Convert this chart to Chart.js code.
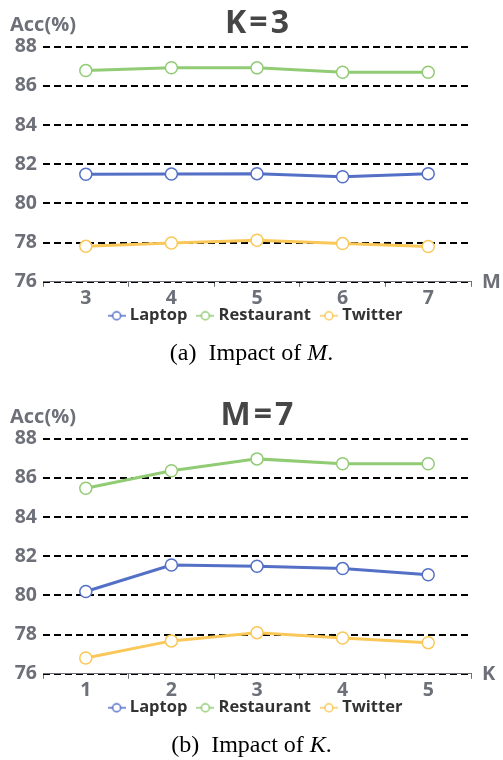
<!DOCTYPE html>
<html lang="en">
<head>
<meta charset="UTF-8">
<title>Impact of M and K</title>
<style>
  html, body { margin: 0; padding: 0; background: #fff; }
  #page { position: relative; width: 503px; height: 760px; overflow: hidden; }
  .box { position: absolute; left: 0; width: 503px; height: 350px; }
  .caption {
    position: absolute; left: 0; width: 503px; text-align: center;
    font-family: "Liberation Serif", "Times New Roman", serif; font-size: 24px; line-height: 26px; color: #000;
  }
</style>
</head>
<body>
<div id="page">
  <div class="box" style="top:0px"><canvas id="chartM" width="503" height="350"></canvas></div>
  <div class="caption" style="top:339px">(a)&nbsp; Impact of <i>M</i>.</div>
  <div class="box" style="top:392px"><canvas id="chartK" width="503" height="350"></canvas></div>
  <div class="caption" style="top:731px">(b)&nbsp; Impact of <i>K</i>.</div>
</div>

<script src="https://cdn.jsdelivr.net/npm/chart.js"></script>
<script>
// (a) K = 3, M varies
const mValues = ['3', '4', '5', '6', '7'];
const laptopM = [81.49, 81.50, 81.52, 81.36, 81.52];
const restaurantM = [86.78, 86.93, 86.92, 86.70, 86.70];
const twitterM = [77.81, 77.98, 78.12, 77.95, 77.80];

// (b) M = 7, K varies
const kValues = ['1', '2', '3', '4', '5'];
const laptopK = [80.20, 81.55, 81.49, 81.37, 81.06];
const restaurantK = [85.47, 86.36, 86.97, 86.72, 86.72];
const twitterK = [76.81, 77.68, 78.10, 77.83, 77.59];

const yTicks = [76, 78, 80, 82, 84, 86, 88];
const seriesNames = ['Laptop', 'Restaurant', 'Twitter'];
const colors = ['#5470c6', '#91cc75', '#fac858'];

const axisGray = '#6e7079';
const fontFamily = '"Open Sans", "Noto Sans", sans-serif';
Chart.defaults.font.family = fontFamily;

// little line + circle marker for the legend
function legendIcon(color) {
    const c = document.createElement('canvas');
    c.width = 18;
    c.height = 12;
    const g = c.getContext('2d');
    g.strokeStyle = color;
    g.lineWidth = 1.5;
    g.beginPath();
    g.moveTo(0, 6);
    g.lineTo(18, 6);
    g.stroke();
    g.beginPath();
    g.arc(9, 6, 4, 0, Math.PI * 2);
    g.fillStyle = '#fff';
    g.fill();
    g.stroke();
    return c;
}
const icons = colors.map(legendIcon);

// title over the plot, "Acc(%)" above the y axis, M / K at the end of the x axis
const extras = {
    id: 'extras',
    afterLayout(chart) {
        // pull the legend up close under the x labels
        chart.legend.top -= 15.3;
        chart.legend.bottom -= 15.3;
    },
    afterDraw(chart, args, opts) {
        const {ctx, chartArea} = chart;
        ctx.save();
        ctx.textBaseline = 'middle';
        ctx.textAlign = 'center';
        ctx.fillStyle = '#464646';
        ctx.font = 'bold 32px ' + fontFamily;
        ctx.letterSpacing = '3px';
        ctx.fillText(opts.title, (chartArea.left + chartArea.right) / 2 + 1.5, chartArea.top - 23);
        ctx.letterSpacing = '0px';
        ctx.font = 'bold 20px ' + fontFamily;
        ctx.fillStyle = axisGray;
        ctx.fillText(opts.y, chartArea.left, chartArea.top - 21);
        ctx.textAlign = 'left';
        ctx.fillText(opts.x, chartArea.right + 11, chartArea.bottom);
        ctx.restore();
    }
};

function makeChart(id, title, xName, labels, series) {
    return new Chart(document.getElementById(id), {
        type: 'line',
        data: {
            labels: labels,
            datasets: series.map((data, i) => ({
                label: seriesNames[i],
                data: data,
                borderColor: colors[i],
                borderWidth: 3,
                pointRadius: 6,
                pointBorderWidth: 1.5,
                pointBackgroundColor: '#fff',
                pointBorderColor: colors[i],
                tension: 0,
                clip: false
            }))
        },
        options: {
            responsive: false,
            animation: false,
            events: [],
            layout: { padding: { top: 46.7, right: 32, bottom: 0.7, left: 0 } },
            plugins: {
                title: { display: false },
                legend: {
                    position: 'bottom',
                    fullSize: false,
                    labels: {
                        usePointStyle: true,
                        pointStyleWidth: 10,
                        padding: 13,
                        color: '#333',
                        font: { size: 16.5, weight: 'bold' },
                        generateLabels(chart) {
                            const items = Chart.defaults.plugins.legend.labels.generateLabels(chart);
                            items.forEach((it, i) => { it.pointStyle = icons[i]; });
                            return items;
                        }
                    }
                },
                tooltip: { enabled: false },
                extras: { title: title, x: xName, y: 'Acc(%)' }
            },
            scales: {
                x: {
                    offset: true,
                    afterFit(scale) { scale.height = 28; },
                    grid: {
                        offset: true,
                        drawOnChartArea: false,
                        drawTicks: true,
                        tickLength: 5,
                        tickColor: axisGray,
                        tickWidth: 1
                    },
                    border: { display: true, color: axisGray, width: 1 },
                    ticks: {
                        color: axisGray,
                        padding: 0,
                        font: { size: 19.5, weight: 'bold' }
                    }
                },
                y: {
                    min: yTicks[0],
                    max: yTicks[yTicks.length - 1],
                    afterFit(scale) { scale.width = 43; },
                    afterBuildTicks(scale) { scale.ticks = yTicks.map(v => ({ value: v })); },
                    grid: { color: '#000', lineWidth: 2, drawTicks: false },
                    border: { display: false, dash: [7, 4] },
                    ticks: {
                        color: axisGray,
                        padding: 6,
                        font: { size: 19.5, weight: 'bold' }
                    }
                }
            }
        },
        plugins: [extras]
    });
}

makeChart('chartM', 'K=3', 'M', mValues, [laptopM, restaurantM, twitterM]);
makeChart('chartK', 'M=7', 'K', kValues, [laptopK, restaurantK, twitterK]);
</script>
</body>
</html>
